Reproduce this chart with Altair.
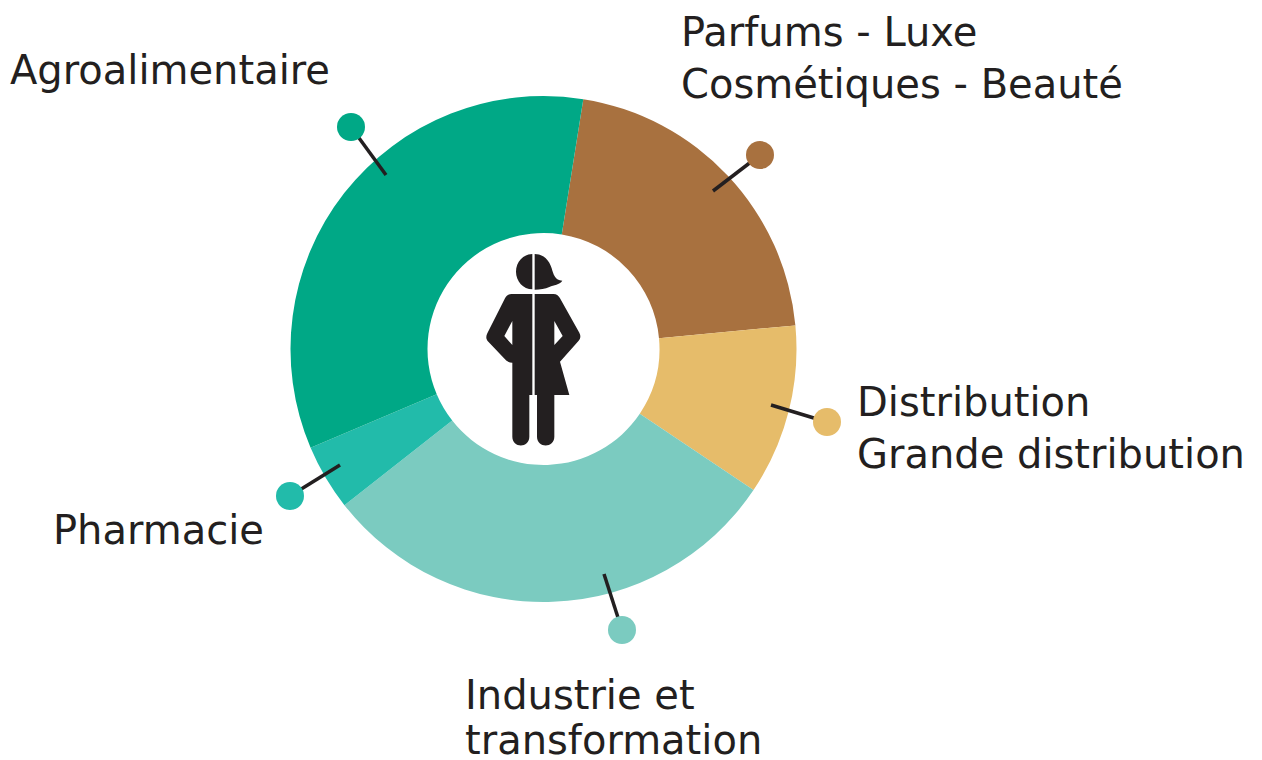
import altair as alt
import pandas as pd

# Share of each sector (%), clockwise from the Parfums sector
sectors = ["Parfums", "Distribution", "Industrie", "Pharmacie", "Agroalimentaire"]
shares = [21.0, 10.9, 30.0, 4.2, 33.9]
colors = ["#A8713F", "#E6BC6A", "#7BCBC0", "#22BBAA", "#00A886"]
order = [0, 1, 2, 3, 4]

# Pin anchors, in picture coordinates
dot_x = [760, 827, 622, 290, 351]
dot_y = [155, 422, 630, 496, 127]
end_x = [713, 771, 604, 340, 386]
end_y = [191, 405, 574, 465, 175]

label_text = ["Agroalimentaire", "Parfums - Luxe", "Cosmétiques - Beauté", "Distribution",
              "Grande distribution", "Pharmacie", "Industrie et", "transformation"]
label_x = [10, 681, 681, 857, 857, 53, 465, 465]
label_y = [84, 46, 98, 416, 468, 544, 709, 754]

center_x = [543.5]
center_y = [349]
icon_x = [534]
icon_y = [349]

W, H = 1246, 752
X = alt.Scale(domain=[8, 8 + W], nice=False, zero=False)
Y = alt.Scale(domain=[8 + H, 8], nice=False, zero=False)
START = 0.158
COLOR = alt.Scale(domain=sectors, range=colors)
INK = "#231F20"


def px(points):
    """Turn traced outline points into a path centred on the icon."""
    out = []
    for p in points:
        if isinstance(p, str):
            out.append(p)
        else:
            out.append(f"{(p[0] - 192) / 3:.2f} {(p[1] - 327) / 3:.2f}")
    return " ".join(out)


left_half = px([
    "M", (187, 42), "C", (160, 42), (138, 66), (138, 95), "C", (138, 124), (160, 148), (187, 148), "Z",
    "M", (187, 162), "L", (125, 162), "C", (115, 162), (108, 168), (105, 175),
    "L", (52, 280), "C", (47, 290), (48, 298), (55, 305),
    "L", (105, 358), "C", (112, 365), (118, 368), (127, 368),
    "L", (127, 590), "C", (127, 625), (178, 625), (178, 590),
    "L", (178, 465), (187, 465), "Z",
    "M", (127, 243), "L", (127, 315), (103, 288), "Z",
])
right_half = px([
    "M", (194, 42), "C", (222, 42), (238, 62), (245, 85), "C", (250, 102), (255, 122), (277, 122),
    "C", (268, 135), (252, 134), (238, 141), "C", (226, 147), (210, 149), (194, 149), "Z",
    "M", (194, 162), "L", (250, 162), "C", (260, 162), (267, 168), (270, 175),
    "L", (328, 278), "C", (333, 287), (332, 295), (326, 302),
    "L", (270, 365), (298, 465), (253, 465), (253, 590),
    "C", (253, 625), (201, 625), (201, 590),
    "L", (201, 465), (194, 465), "Z",
    "M", (253, 243), "L", (253, 315), (278, 288), "Z",
])

df = pd.DataFrame({
    "sector": sectors, "share": shares, "order": order,
    "cx": center_x * 5, "cy": center_y * 5,
    "dx": dot_x, "dy": dot_y, "ex": end_x, "ey": end_y,
})
labels = pd.DataFrame({"t": label_text, "x": label_x, "y": label_y})
centre = pd.DataFrame({"x": icon_x, "y": icon_y})

x_ = lambda f: alt.X(f, type="quantitative", scale=X, axis=None)
y_ = lambda f: alt.Y(f, type="quantitative", scale=Y, axis=None)
col = alt.Color("sector:N", scale=COLOR, legend=None)

arcs = alt.Chart(df).mark_arc(radius=253, radius2=116, stroke=None).encode(
    theta=alt.Theta("share:Q", stack=True,
                    scale=alt.Scale(range=[START, START + 6.283185307])),
    order=alt.Order("order:Q"),
    color=col,
    x=x_("cx"), y=y_("cy"),
)
rules = alt.Chart(df).mark_rule(color=INK, strokeWidth=3.5).encode(
    x=x_("dx"), y=y_("dy"), x2="ex:Q", y2="ey:Q",
)
dots = alt.Chart(df).mark_point(filled=True, opacity=1, size=784, shape="circle").encode(
    x=x_("dx"), y=y_("dy"), color=col,
)
text = alt.Chart(labels).mark_text(
    align="left", baseline="alphabetic", font="DejaVu Sans", fontSize=40, color=INK,
).encode(x=x_("x"), y=y_("y"), text="t:N")

icon_l = alt.Chart(centre).mark_point(filled=True, opacity=1, size=4, shape=left_half, color=INK).encode(
    x=x_("x"), y=y_("y"))
icon_r = alt.Chart(centre).mark_point(filled=True, opacity=1, size=4, shape=right_half, color=INK).encode(
    x=x_("x"), y=y_("y"))

chart = alt.layer(arcs, rules, dots, text, icon_l, icon_r).resolve_scale(
    x="shared", y="shared"
).properties(
    width=W, height=H, padding=0, autosize=alt.AutoSizeParams(type="none"),
).configure_view(stroke=None)

chart.save("out.html", embed_options={"renderer": "svg", "actions": False})
